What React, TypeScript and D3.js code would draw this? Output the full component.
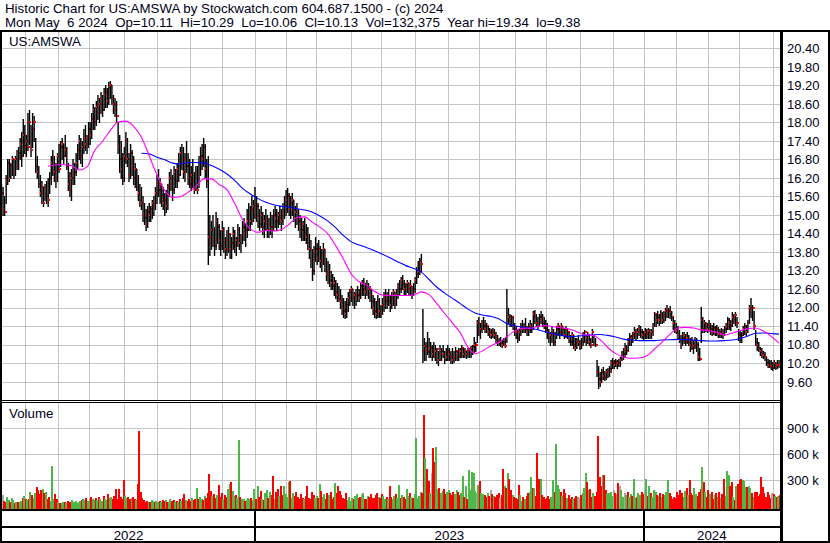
import React from 'react';
import * as d3 from 'd3';

// ---------- DATA ----------
const HEADER_LINE_1 = 'Historic Chart for US:AMSWA by Stockwatch.com 604.687.1500 - (c) 2024';
const HEADER_LINE_2 = 'Mon May  6 2024  Op=10.11  Hi=10.29  Lo=10.06  Cl=10.13  Vol=132,375  Year hi=19.34  lo=9.38';
const SYMBOL = 'US:AMSWA';
const VOLUME_TITLE = 'Volume';

const FIRST_DAY = '2022-05-09';
const LAST_DAY = '2024-05-06';
const HOLIDAYS = [
  '2022-05-30', '2022-06-20', '2022-07-04', '2022-09-05', '2022-11-24', '2022-12-26',
  '2023-01-02', '2023-01-16', '2023-02-20', '2023-04-07', '2023-05-29', '2023-06-19',
  '2023-07-04', '2023-09-04', '2023-11-23', '2023-12-25',
  '2024-01-01', '2024-01-15', '2024-02-19', '2024-03-29',
];

const PRICE_TICKS = [9.6, 10.2, 10.8, 11.4, 12.0, 12.6, 13.2, 13.8, 14.4, 15.0, 15.6, 16.2, 16.8, 17.4, 18.0, 18.6, 19.2, 19.8, 20.4];
const VOLUME_TICKS_K = [300, 600, 900];

const HIGHS = [
  16.0, 15.9, 15.6, 16.3, 16.8, 16.8, 16.7, 16.9, 16.8, 16.9,
  17.1, 17.2, 17.5, 17.7, 18.1, 17.9, 17.6, 18.3, 18.4, 17.9,
  18.3, 18.2, 17.5, 16.9, 16.6, 16.3, 16.1, 15.9, 16.0, 16.1,
  16.2, 16.4, 16.9, 17.1, 16.9, 16.7, 17.0, 17.3, 17.4, 17.5,
  17.3, 17.6, 17.2, 16.7, 16.4, 16.5, 16.8, 16.7, 17.0, 17.3,
  17.6, 17.5, 17.4, 17.8, 17.9, 17.6, 18.0, 18.0, 18.3, 18.6,
  18.5, 18.7, 18.9, 18.8, 19.0, 18.9, 19.1, 19.2, 19.1, 19.3,
  19.34, 19.2, 18.9, 18.8, 18.7, 18.0, 17.6, 17.4, 17.0, 17.2,
  17.7, 17.5, 17.0, 17.3, 17.1, 16.9, 16.7, 16.5, 16.3, 16.0,
  15.9, 15.6, 15.4, 15.2, 15.3, 15.4, 15.3, 15.5, 15.6, 15.9,
  16.3, 16.5, 16.2, 16.0, 15.9, 15.7, 15.8, 16.0, 16.4, 16.5,
  16.3, 16.6, 16.5, 16.7, 17.0, 17.2, 17.3, 17.2, 17.0, 17.4,
  17.0, 16.8, 16.6, 16.8, 16.4, 16.6, 16.6, 16.9, 17.2, 17.3,
  17.5, 17.3, 16.8, 16.9, 15.0, 14.8, 15.0, 14.6, 15.1, 14.9,
  14.7, 14.5, 14.8, 14.6, 14.3, 14.5, 14.6, 14.4, 14.3, 14.6,
  14.5, 14.3, 14.7, 14.6, 14.4, 14.8, 14.9, 14.7, 15.2, 15.4,
  15.3, 15.6, 15.5, 15.9, 15.6, 15.4, 15.2, 15.3, 15.1, 15.0,
  15.2, 15.0, 14.9, 15.1, 15.0, 15.2, 15.3, 15.2, 15.1, 15.3,
  15.2, 15.4, 15.6, 15.8, 15.87, 15.7, 15.6, 15.7, 15.5, 15.3,
  15.4, 15.2, 15.0, 14.9, 14.8, 14.9, 14.7, 14.6, 14.4, 14.2,
  13.9, 14.0, 14.3, 14.1, 14.2, 14.0, 13.9, 14.1, 13.9, 13.6,
  13.5, 13.4, 13.2, 13.1, 13.0, 12.9, 12.8, 12.7, 12.6, 12.4,
  12.3, 12.2, 12.3, 12.5, 12.6, 12.7, 12.6, 12.5, 12.6, 12.7,
  12.6, 12.8, 12.9, 12.95, 12.8, 12.9, 12.8, 12.7, 12.6, 12.4,
  12.3, 12.2, 12.4, 12.3, 12.1, 12.3, 12.5, 12.6, 12.5, 12.6,
  12.4, 12.5, 12.6, 12.5, 12.6, 12.8, 12.9, 13.0, 13.05, 12.9,
  12.8, 12.9, 12.8, 12.9, 12.7, 12.8, 13.0, 13.3, 13.5, 13.6,
  13.73, 11.97, 11.0, 10.9, 11.2, 11.0, 10.9, 10.8, 10.9, 10.8,
  10.7, 10.6, 10.8, 10.7, 10.8, 10.6, 10.7, 10.8, 10.7, 10.6,
  10.7, 10.6, 10.73, 10.6, 10.7, 10.7, 10.79, 10.7, 10.7, 10.6,
  10.7, 10.7, 10.75, 10.8, 11.05, 10.9, 11.6, 11.7, 11.5, 11.6,
  11.7, 11.6, 11.5, 11.4, 11.35, 11.3, 11.35, 11.3, 11.2, 11.1,
  11.0, 11.05, 10.95, 11.0, 11.0, 12.6, 12.0, 11.8, 11.76, 11.7,
  11.5, 11.4, 11.3, 11.3, 11.5, 11.6, 11.5, 11.66, 11.4, 11.5,
  11.6, 11.5, 11.9, 11.93, 11.8, 11.7, 11.8, 11.9, 11.8, 11.7,
  11.6, 11.5, 11.3, 11.2, 11.4, 11.3, 11.2, 11.4, 11.5, 11.4,
  11.5, 11.4, 11.3, 11.4, 11.3, 11.2, 11.1, 11.2, 11.1, 11.0,
  11.0, 11.1, 10.95, 11.0, 11.2, 11.28, 11.1, 11.2, 11.1, 11.0,
  11.3, 11.1, 11.0, 10.3, 10.1, 9.9, 10.0, 10.08, 9.95, 10.0,
  10.05, 10.1, 10.3, 10.37, 10.3, 10.35, 10.3, 10.35, 10.4, 10.6,
  10.7, 10.86, 10.8, 11.0, 11.18, 11.1, 11.2, 11.37, 11.3, 11.35,
  11.44, 11.4, 11.3, 11.25, 11.35, 11.3, 11.34, 11.3, 11.3, 11.5,
  11.86, 11.8, 11.9, 11.8, 11.93, 11.85, 11.9, 12.0, 12.09, 12.0,
  12.05, 11.9, 11.7, 11.6, 11.5, 11.4, 11.28, 11.1, 11.2, 11.2,
  11.15, 11.2, 11.1, 11.0, 11.05, 10.95, 11.05, 11.0, 10.9, 10.7,
  12.03, 11.7, 11.6, 11.55, 11.5, 11.6, 11.5, 11.45, 11.5, 11.4,
  11.45, 11.37, 11.3, 11.35, 11.3, 11.4, 11.5, 11.7, 11.65, 11.6,
  11.86, 11.8, 11.85, 11.7, 11.3, 11.25, 11.2, 11.4, 11.5, 11.45,
  11.6, 12.1, 12.3, 12.1, 11.9, 11.28, 11.0, 10.9, 10.73, 10.7,
  10.6, 10.55, 10.4, 10.35, 10.3, 10.31, 10.25, 10.3, 10.25, 10.3, 10.29,
];

const LOWS = [
  15.3, 15.0, 15.0, 15.4, 16.0, 16.1, 16.2, 16.3, 16.2, 16.3,
  16.5, 16.5, 16.8, 16.6, 16.9, 17.0, 16.9, 17.1, 17.3, 16.9,
  17.2, 17.4, 16.4, 16.2, 15.9, 15.6, 15.4, 15.3, 15.5, 15.4,
  15.3, 15.7, 16.0, 16.3, 16.1, 15.9, 16.1, 16.4, 16.6, 16.8,
  16.7, 16.9, 16.5, 15.8, 15.6, 15.5, 16.0, 16.0, 16.3, 16.5,
  16.8, 16.7, 16.6, 17.0, 17.1, 17.0, 17.2, 17.3, 17.5, 17.8,
  17.8, 17.9, 18.1, 18.0, 18.3, 18.2, 18.4, 18.5, 18.5, 18.6,
  18.8, 18.6, 18.3, 18.2, 18.0, 17.0, 16.4, 16.2, 16.0, 16.1,
  16.7, 16.6, 16.1, 16.2, 16.3, 16.0, 15.9, 15.8, 15.5, 15.3,
  15.2, 14.8, 14.7, 14.5, 14.6, 14.8, 14.8, 14.9, 15.0, 15.2,
  15.4, 15.6, 15.4, 15.3, 15.2, 15.0, 15.1, 15.2, 15.6, 15.8,
  15.5, 15.7, 15.9, 15.9, 16.1, 16.3, 16.5, 16.2, 16.1, 16.4,
  16.0, 15.9, 15.8, 15.9, 15.7, 15.8, 15.7, 15.9, 16.3, 16.5,
  16.6, 16.2, 15.9, 13.4, 13.7, 13.9, 14.0, 13.7, 13.9, 14.1,
  13.9, 13.7, 13.9, 13.8, 13.6, 13.7, 13.8, 13.6, 13.6, 13.9,
  13.8, 13.7, 14.0, 13.9, 13.8, 14.1, 14.2, 14.0, 14.3, 14.5,
  14.5, 14.7, 14.8, 14.9, 14.8, 14.6, 14.5, 14.6, 14.4, 14.3,
  14.5, 14.3, 14.3, 14.4, 14.3, 14.5, 14.6, 14.5, 14.6, 14.7,
  14.5, 14.7, 14.9, 15.0, 15.1, 15.0, 14.9, 15.0, 14.8, 14.6,
  14.7, 14.5, 14.3, 14.2, 14.2, 14.2, 14.1, 13.9, 13.6, 13.3,
  12.9, 13.1, 13.5, 13.4, 13.5, 13.3, 13.2, 13.4, 13.2, 12.9,
  12.8, 12.7, 12.6, 12.6, 12.4, 12.3, 12.2, 12.2, 12.0, 11.8,
  11.7, 11.66, 11.7, 11.9, 12.1, 12.2, 12.1, 12.0, 12.1, 12.2,
  12.2, 12.3, 12.4, 12.4, 12.3, 12.4, 12.3, 12.2, 12.0, 11.8,
  11.7, 11.66, 11.7, 11.7, 11.7, 11.8, 11.9, 12.0, 12.0, 12.1,
  11.9, 12.0, 12.1, 12.0, 12.1, 12.3, 12.4, 12.5, 12.6, 12.4,
  12.4, 12.5, 12.4, 12.4, 12.3, 12.4, 12.5, 12.8, 13.0, 13.1,
  13.2, 10.24, 10.3, 10.3, 10.5, 10.4, 10.4, 10.3, 10.4, 10.3,
  10.2, 10.14, 10.3, 10.3, 10.4, 10.2, 10.3, 10.3, 10.3, 10.2,
  10.2, 10.24, 10.3, 10.3, 10.3, 10.4, 10.4, 10.4, 10.4, 10.37,
  10.4, 10.4, 10.4, 10.5, 10.55, 10.6, 10.9, 11.1, 11.0, 11.2,
  11.3, 11.2, 11.2, 11.1, 11.05, 11.0, 11.05, 11.0, 10.9, 10.8,
  10.8, 10.75, 10.73, 10.8, 10.73, 10.9, 11.5, 11.4, 11.4, 11.3,
  11.1, 11.0, 10.9, 10.95, 11.1, 11.2, 11.2, 11.2, 11.1, 11.1,
  11.2, 11.2, 11.3, 11.5, 11.4, 11.3, 11.4, 11.5, 11.4, 11.35,
  11.2, 11.0, 10.9, 10.8, 10.9, 10.79, 10.8, 11.0, 11.1, 11.0,
  11.1, 11.1, 11.0, 11.05, 11.0, 10.9, 10.8, 10.8, 10.7, 10.63,
  10.7, 10.8, 10.65, 10.7, 10.8, 10.9, 10.8, 10.85, 10.8, 10.73,
  10.9, 10.8, 10.75, 9.8, 9.38, 9.45, 9.6, 9.7, 9.66, 9.7,
  9.75, 9.8, 9.9, 10.05, 10.05, 10.1, 10.05, 10.1, 10.1, 10.3,
  10.35, 10.4, 10.5, 10.63, 10.8, 10.8, 10.9, 11.0, 10.95, 11.0,
  11.1, 11.05, 11.0, 10.95, 11.0, 11.0, 11.0, 11.0, 11.0, 11.1,
  11.4, 11.4, 11.5, 11.44, 11.5, 11.5, 11.55, 11.6, 11.7, 11.7,
  11.66, 11.6, 11.3, 11.2, 11.18, 11.0, 10.9, 10.7, 10.8, 10.85,
  10.8, 10.85, 10.79, 10.6, 10.65, 10.53, 10.7, 10.6, 10.31, 10.31,
  10.9, 11.2, 11.2, 11.25, 11.2, 11.25, 11.15, 11.12, 11.15, 11.1,
  11.1, 11.05, 11.05, 11.05, 11.0, 11.1, 11.2, 11.3, 11.3, 11.28,
  11.4, 11.5, 11.45, 11.37, 10.95, 10.89, 10.9, 11.1, 11.15, 11.12,
  11.2, 11.5, 11.7, 11.6, 11.3, 10.8, 10.63, 10.6, 10.45, 10.4,
  10.37, 10.3, 10.15, 10.08, 10.08, 10.0, 9.98, 10.05, 10.0, 10.05, 10.06,
];

const CLOSES = [
  15.7, 15.2, 15.1, 16.1, 16.7, 16.2, 16.6, 16.8, 16.4, 16.8,
  16.6, 17.0, 17.3, 16.9, 17.6, 17.2, 17.4, 17.2, 18.0, 17.1,
  17.8, 18.0, 16.6, 16.4, 16.0, 15.7, 15.9, 15.4, 15.8, 15.6,
  15.5, 16.2, 16.7, 16.8, 16.4, 16.2, 16.9, 16.5, 17.2, 17.3,
  16.9, 17.1, 16.6, 16.0, 15.8, 16.2, 16.3, 16.4, 16.7, 17.1,
  17.4, 16.9, 17.2, 17.5, 17.3, 17.5, 17.8, 17.6, 18.1, 18.4,
  18.0, 18.5, 18.3, 18.6, 18.8, 18.4, 18.9, 19.0, 18.7, 19.1,
  19.2, 18.8, 18.6, 18.4, 18.2, 17.2, 16.8, 16.5, 16.2, 16.9,
  17.4, 16.8, 16.3, 17.0, 16.6, 16.2, 16.5, 15.9, 15.7, 15.5,
  15.4, 15.0, 14.9, 14.7, 15.1, 15.0, 15.2, 15.4, 15.3, 15.7,
  16.0, 15.8, 16.0, 15.6, 15.4, 15.5, 15.3, 15.9, 16.2, 16.0,
  15.8, 16.4, 16.1, 16.5, 16.3, 17.0, 16.7, 16.4, 16.8, 16.6,
  16.2, 16.0, 16.3, 16.1, 15.8, 16.4, 15.8, 16.7, 16.9, 16.8,
  17.2, 16.5, 16.1, 14.3, 14.1, 14.5, 14.2, 14.0, 14.8, 14.6,
  14.2, 14.0, 14.5, 14.1, 13.9, 14.2, 14.4, 13.9, 14.1, 14.4,
  14.0, 14.2, 14.5, 14.1, 14.3, 14.6, 14.4, 14.5, 14.8, 15.0,
  14.8, 15.2, 15.3, 15.1, 15.3, 14.9, 14.7, 15.0, 14.6, 14.8,
  14.9, 14.5, 14.7, 14.6, 14.5, 15.0, 14.9, 14.8, 15.0, 14.9,
  14.8, 15.1, 15.3, 15.5, 15.6, 15.2, 15.4, 15.5, 15.2, 15.1,
  14.9, 14.8, 14.6, 14.5, 14.7, 14.4, 14.3, 14.1, 13.9, 13.5,
  13.2, 13.8, 13.9, 13.6, 13.9, 13.5, 13.7, 13.9, 13.4, 13.1,
  13.2, 12.9, 12.8, 12.7, 12.8, 12.5, 12.4, 12.3, 12.2, 12.0,
  11.9, 11.8, 12.1, 12.3, 12.5, 12.6, 12.3, 12.4, 12.5, 12.4,
  12.3, 12.7, 12.8, 12.6, 12.5, 12.7, 12.6, 12.4, 12.2, 12.0,
  11.9, 11.8, 12.2, 11.9, 11.8, 12.1, 12.3, 12.2, 12.4, 12.2,
  12.1, 12.3, 12.5, 12.2, 12.4, 12.7, 12.6, 12.9, 12.8, 12.6,
  12.7, 12.8, 12.6, 12.7, 12.5, 12.6, 12.9, 13.1, 13.2, 13.5,
  13.4, 10.6, 10.75, 10.6, 10.55, 10.7, 10.7, 10.5, 10.4, 10.6,
  10.65, 10.3, 10.5, 10.6, 10.5, 10.3, 10.4, 10.6, 10.5, 10.4,
  10.3, 10.4, 10.6, 10.5, 10.4, 10.6, 10.7, 10.5, 10.6, 10.5,
  10.6, 10.65, 10.7, 10.75, 10.8, 10.8, 11.5, 11.2, 11.3, 11.5,
  11.4, 11.3, 11.4, 11.2, 11.2, 11.1, 11.2, 11.1, 11.0, 10.9,
  10.9, 10.85, 10.8, 10.9, 10.75, 11.8, 11.7, 11.6, 11.7, 11.4,
  11.3, 11.2, 11.0, 11.2, 11.4, 11.3, 11.4, 11.3, 11.2, 11.3,
  11.4, 11.3, 11.8, 11.7, 11.5, 11.4, 11.7, 11.6, 11.5, 11.4,
  11.3, 11.2, 11.0, 11.1, 11.2, 10.9, 11.1, 11.3, 11.4, 11.2,
  11.4, 11.3, 11.1, 11.3, 11.2, 11.0, 10.9, 11.1, 10.8, 10.7,
  10.9, 10.9, 10.8, 10.9, 11.1, 11.2, 11.0, 11.1, 10.9, 10.8,
  11.2, 10.9, 10.8, 9.9, 9.7, 9.6, 9.9, 9.8, 9.75, 9.9,
  9.95, 10.0, 10.2, 10.2, 10.15, 10.25, 10.2, 10.2, 10.3, 10.5,
  10.5, 10.7, 10.6, 10.9, 11.05, 11.0, 11.1, 11.2, 11.1, 11.2,
  11.3, 11.2, 11.1, 11.1, 11.2, 11.15, 11.25, 11.1, 11.2, 11.4,
  11.8, 11.6, 11.7, 11.6, 11.8, 11.6, 11.75, 11.9, 11.95, 11.9,
  11.85, 11.7, 11.5, 11.3, 11.25, 11.1, 10.95, 10.8, 11.0, 11.1,
  10.9, 11.0, 10.9, 10.8, 10.7, 10.75, 10.9, 10.8, 10.4, 10.35,
  11.6, 11.3, 11.5, 11.4, 11.3, 11.45, 11.3, 11.2, 11.35, 11.2,
  11.3, 11.15, 11.2, 11.15, 11.1, 11.3, 11.4, 11.6, 11.5, 11.4,
  11.7, 11.6, 11.75, 11.5, 11.1, 11.0, 11.1, 11.3, 11.4, 11.2,
  11.5, 12.0, 11.9, 12.0, 11.4, 10.9, 10.8, 10.7, 10.6, 10.5,
  10.45, 10.4, 10.2, 10.15, 10.1, 10.1, 10.05, 10.2, 10.1, 10.15, 10.13,
];

// daily volume, thousands of shares
const VOLUMES_K = [
  130, 60, 50, 110, 70, 45, 95, 70, 40, 55,
  50, 45, 60, 95, 120, 80, 70, 90, 165, 130,
  100, 150, 220, 190, 140, 190, 200, 150, 170, 90,
  110, 60, 470, 80, 140, 90, 45, 40, 35, 55,
  50, 40, 60, 55, 45, 70, 50, 60, 40, 55,
  60, 75, 90, 70, 100, 60, 85, 110, 80, 70,
  95, 75, 110, 85, 65, 120, 90, 70, 140, 95,
  110, 85, 120, 200, 80, 200, 110, 90, 300, 120,
  95, 110, 80, 100, 105, 90, 70, 260, 870, 170,
  100, 70, 55, 60, 45, 50, 70, 60, 50, 65,
  45, 60, 55, 70, 60, 75, 50, 55, 85, 60,
  70, 55, 65, 50, 80, 60, 100, 140, 70, 65,
  85, 60, 100, 70, 90, 210, 80, 110, 90, 75,
  120, 100, 150, 375, 180, 120, 140, 100, 130, 245,
  110, 150, 90, 130, 110, 200, 260, 280, 180, 120,
  130, 100, 765, 110, 90, 85, 60, 70, 95, 80,
  100, 75, 200, 90, 230, 110, 180, 90, 70, 150,
  190, 100, 170, 130, 350, 80, 160, 200, 120, 230,
  130, 240, 140, 110, 280, 290, 95, 150, 120, 160,
  110, 90, 140, 100, 90, 120, 230, 100, 80, 160,
  130, 95, 120, 100, 260, 180, 110, 140, 85, 150,
  130, 160, 90, 110, 270, 150, 240, 180, 130, 100,
  90, 150, 70, 110, 60, 100, 90, 120, 140, 95,
  110, 130, 150, 85, 90, 120, 110, 140, 100, 95,
  130, 150, 110, 95, 140, 120, 90, 110, 80, 240,
  110, 80, 120, 140, 100, 245, 95, 130, 110, 90,
  200, 120, 150, 110, 95, 140, 790, 100, 120, 160,
  150, 1050, 555, 430, 290, 150, 380, 670, 510, 680,
  200, 210, 150, 180, 200, 140, 170, 190, 150, 130,
  170, 140, 190, 160, 130, 150, 350, 110, 230, 90,
  420, 190, 400, 390, 180, 150, 250, 290, 150, 140,
  130, 110, 150, 120, 190, 140, 120, 110, 130, 150,
  100, 130, 430, 230, 210, 390, 310, 190, 130, 110,
  100, 85, 245, 130, 60, 110, 90, 120, 150, 170,
  335, 210, 210, 120, 620, 310, 310, 130, 110, 90,
  100, 120, 90, 110, 300, 160, 720, 245, 200, 170,
  120, 200, 150, 100, 130, 90, 110, 80, 100, 120,
  110, 95, 130, 150, 210, 380, 280, 190, 200, 110,
  150, 120, 170, 810, 335, 230, 360, 360, 190, 150,
  150, 170, 120, 190, 150, 140, 265, 240, 190, 110,
  150, 130, 160, 110, 140, 120, 315, 100, 110, 150,
  130, 160, 140, 190, 310, 120, 230, 150, 110, 190,
  160, 130, 120, 150, 110, 140, 130, 160, 305, 150,
  120, 80, 110, 100, 160, 130, 190, 150, 110, 180,
  210, 130, 300, 150, 130, 210, 140, 120, 160, 200,
  450, 277, 170, 110, 190, 140, 170, 80, 130, 150,
  110, 170, 100, 140, 320, 120, 408, 360, 230, 285,
  110, 70, 230, 260, 300, 310, 300, 290, 225, 220,
  230, 210, 150, 110, 160, 170, 120, 140, 335, 220,
  150, 110, 160, 130, 95, 150, 140, 120, 110, 120, 132,
];

// magenta average, read every 5th session starting at session 30
const MA_FAST_START = 30;
const MA_FAST = [
  16.58, 16.63, 16.63, 16.60, 16.46, 16.56, 17.10, 17.39, 17.74, 18.01,
  18.04, 17.87, 17.52, 16.92, 16.30, 15.79, 15.57, 15.59, 15.74, 15.92,
  16.17, 16.17, 15.99, 15.82, 15.37, 14.86, 14.55, 14.44, 14.50, 14.48,
  14.53, 14.70, 14.92, 14.94, 14.76, 14.60, 14.38, 14.00, 13.56, 13.08,
  12.84, 12.72, 12.52, 12.41, 12.40, 12.39, 12.39, 12.41, 12.51, 12.42,
  12.13, 11.81, 11.50, 11.19, 10.71, 10.51, 10.62, 10.77, 10.88, 11.06,
  11.24, 11.33, 11.33, 11.39, 11.42, 11.38, 11.35, 11.31, 11.22, 11.12,
  11.11, 10.96, 10.70, 10.51, 10.40, 10.36, 10.37, 10.44, 10.66, 10.89,
  11.14, 11.34, 11.36, 11.34, 11.28, 11.25, 11.20, 11.11, 11.18, 11.25,
  11.32, 11.34, 11.24, 11.07, 10.85,
];

// blue average, read every 5th session starting at session 90
const MA_SLOW_START = 90;
const MA_SLOW = [
  17.00, 16.98, 16.87, 16.79, 16.68, 16.65, 16.70, 16.70, 16.69, 16.60,
  16.48, 16.33, 16.12, 15.86, 15.68, 15.53, 15.41, 15.33, 15.28, 15.25,
  15.20, 15.16, 15.09, 14.96, 14.80, 14.58, 14.33, 14.13, 14.03, 13.94,
  13.84, 13.73, 13.61, 13.48, 13.36, 13.27, 13.15, 12.91, 12.66, 12.47,
  12.30, 12.13, 11.95, 11.82, 11.75, 11.71, 11.63, 11.48, 11.41, 11.37,
  11.33, 11.28, 11.21, 11.15, 11.10, 11.06, 11.07, 11.10, 11.12, 11.13,
  11.10, 11.05, 10.98, 10.95, 10.93, 10.93, 10.93, 10.95, 10.96, 10.97,
  10.96, 10.95, 10.93, 10.92, 10.92, 10.93, 10.95, 11.00, 11.08, 11.17,
  11.18, 11.16, 11.14,
];
const MA_STEP = 5;

// ---------- LAYOUT ----------
const W = 830;
const H = 543;
const PLOT_L = 2;
const PLOT_R = 780;
const PRICE_TOP = 32;
const PRICE_BOT = 400;
const VOL_TOP = 402.5;
const VOL_BOT = 509.5;
const FONT = "'Liberation Sans', Arial, Helvetica, sans-serif";
const TEXT_COLOR = '#000018';
const GRID = '#c4c4c4';

function tradingDays(): Date[] {
  const hol = new Set(HOLIDAYS);
  const out: Date[] = [];
  let t = Date.parse(FIRST_DAY + 'T00:00:00Z');
  const end = Date.parse(LAST_DAY + 'T00:00:00Z');
  while (t <= end) {
    const d = new Date(t);
    const wd = d.getUTCDay();
    const iso = d.toISOString().slice(0, 10);
    if (wd !== 0 && wd !== 6 && !hol.has(iso)) out.push(d);
    t += 86400000;
  }
  return out;
}

export default function App() {
  const dates = tradingDays();
  const n = CLOSES.length;

  const xs = d3.scaleLinear().domain([0, n - 1]).range([1.5, 779]);
  const yP = d3.scaleLinear().domain([9.6, 20.4]).range([381.7, 48.3]);
  const yV = d3.scaleLinear().domain([0, 900]).range([506.3, 428.3]);

  const monthStarts: number[] = [];
  const yearStarts: number[] = [];
  for (let i = 1; i < dates.length; i++) {
    if (dates[i].getUTCMonth() !== dates[i - 1].getUTCMonth()) monthStarts.push(i);
    if (dates[i].getUTCFullYear() !== dates[i - 1].getUTCFullYear()) yearStarts.push(i);
  }
  const yearSegments: { label: string; x0: number; x1: number }[] = [];
  const bounds = [PLOT_L, ...yearStarts.map((i) => xs(i) - 1.5), PLOT_R];
  const firstYear = dates[0].getUTCFullYear();
  for (let k = 0; k < bounds.length - 1; k++) {
    yearSegments.push({ label: String(firstYear + k), x0: bounds[k], x1: bounds[k + 1] });
  }

  const fastPts: [number, number][] = MA_FAST.map((v, k) => [MA_FAST_START + k * MA_STEP, v]);
  const slowPts: [number, number][] = MA_SLOW.map((v, k) => [MA_SLOW_START + k * MA_STEP, v]);
  const maLine = d3
    .line<[number, number]>()
    .x((d) => xs(Math.min(d[0], n - 1)))
    .y((d) => yP(d[1]))
    .curve(d3.curveMonotoneX);

  const volColor = (i: number) => {
    if (i === 0) return '#a8a8a8';
    const diff = CLOSES[i] - CLOSES[i - 1];
    if (Math.abs(diff) < 1e-9) return '#a8a8a8';
    return diff > 0 ? '#4db848' : '#ff0000';
  };

  const px = (i: number) => Math.round(xs(i));

  return (
    <svg
      width={W}
      height={H}
      viewBox={`0 0 ${W} ${H}`}
      style={{ position: 'absolute', left: 0, top: 0, display: 'block', background: '#fff' }}
      fontFamily={FONT}
    >
      <rect x={0} y={0} width={W} height={H} fill="#fff" />

      {/* header */}
      <text x={5} y={13} fontSize={13.3} fill={TEXT_COLOR} style={{ whiteSpace: 'pre' }}>
        {HEADER_LINE_1}
      </text>
      <text x={5} y={26.5} fontSize={13.3} fill={TEXT_COLOR} style={{ whiteSpace: 'pre' }}>
        {HEADER_LINE_2}
      </text>

      {/* grid */}
      <g stroke={GRID} strokeWidth={1} shapeRendering="crispEdges">
        {PRICE_TICKS.map((v) => (
          <line key={'hp' + v} x1={PLOT_L} x2={PLOT_R} y1={Math.round(yP(v)) + 0.5} y2={Math.round(yP(v)) + 0.5} />
        ))}
        {monthStarts.map((i) => (
          <line key={'vp' + i} x1={Math.round(xs(i) - 1.5) + 0.5} x2={Math.round(xs(i) - 1.5) + 0.5} y1={PRICE_TOP} y2={PRICE_BOT} />
        ))}
        {VOLUME_TICKS_K.map((v) => (
          <line key={'hv' + v} x1={PLOT_L} x2={PLOT_R} y1={Math.round(yV(v)) + 0.5} y2={Math.round(yV(v)) + 0.5} />
        ))}
        {monthStarts.map((i) => (
          <line key={'vv' + i} x1={Math.round(xs(i) - 1.5) + 0.5} x2={Math.round(xs(i) - 1.5) + 0.5} y1={VOL_TOP} y2={VOL_BOT} />
        ))}
      </g>

      {/* price bars: each bar drawn with its close mark, next bar may cover part of the mark */}
      <g>
        {CLOSES.map((c, i) => {
          const y1 = Math.round(yP(HIGHS[i]));
          const y2 = Math.round(yP(LOWS[i]));
          return (
            <g key={'b' + i}>
              <rect x={xs(i) - 0.7} y={y1} width={1.4} height={Math.max(1, y2 - y1 + 1)} fill="#000" />
              <rect x={px(i)} y={Math.round(yP(c)) - 1} width={2} height={2} fill="#ff0000" shapeRendering="crispEdges" />
            </g>
          );
        })}
      </g>

      {/* moving averages */}
      <path d={maLine(slowPts) || ''} fill="none" stroke="#0000ff" strokeWidth={1.1} />
      <path d={maLine(fastPts) || ''} fill="none" stroke="#ff00ff" strokeWidth={1.1} />

      {/* volume bars */}
      <g shapeRendering="crispEdges">
        {VOLUMES_K.map((v, i) => {
          const top = Math.round(yV(v));
          return <rect key={'v' + i} x={px(i)} y={top} width={2} height={Math.max(1, VOL_BOT - top)} fill={volColor(i)} />;
        })}
      </g>

      {/* labels inside panels */}
      <text x={9} y={46} fontSize={13.3} fill={TEXT_COLOR}>{SYMBOL}</text>
      <text x={9} y={418} fontSize={13.3} fill={TEXT_COLOR}>{VOLUME_TITLE}</text>

      {/* right axis labels */}
      {PRICE_TICKS.map((v) => (
        <text key={'pt' + v} x={787} y={yP(v) + 4.8} fontSize={13} fill={TEXT_COLOR}>
          {v.toFixed(2)}
        </text>
      ))}
      {VOLUME_TICKS_K.map((v) => (
        <text key={'vt' + v} x={787} y={yV(v) + 4.8} fontSize={13} fill={TEXT_COLOR}>
          {`${v} k`}
        </text>
      ))}

      {/* year labels */}
      {yearSegments.map((s) => (
        <text key={s.label} x={(s.x0 + s.x1) / 2} y={539.5} fontSize={13.3} textAnchor="middle" fill={TEXT_COLOR}>
          {s.label}
        </text>
      ))}

      {/* frame lines */}
      <g stroke="#000" shapeRendering="crispEdges" fill="none">
        <line x1={0} x2={W} y1={31} y2={31} strokeWidth={2} />
        <line x1={1} x2={1} y1={30} y2={H} strokeWidth={2} />
        <line x1={781.5} x2={781.5} y1={30} y2={H} strokeWidth={3} />
        <line x1={829} x2={829} y1={30} y2={H} strokeWidth={2} />
        <line x1={0} x2={W} y1={542} y2={542} strokeWidth={2} />
        <line x1={PLOT_L} x2={PLOT_R} y1={400.5} y2={400.5} strokeWidth={1} />
        <line x1={PLOT_L} x2={PLOT_R} y1={402.5} y2={402.5} strokeWidth={1} />
        <line x1={PLOT_L} x2={PLOT_R} y1={510} y2={510} strokeWidth={2} />
        <line x1={PLOT_L} x2={PLOT_R} y1={527} y2={527} strokeWidth={2} />
        {yearStarts.map((i) => (
          <line key={'ys' + i} x1={Math.round(xs(i) - 1.5)} x2={Math.round(xs(i) - 1.5)} y1={510} y2={H} strokeWidth={2} />
        ))}
      </g>
    </svg>
  );
}
